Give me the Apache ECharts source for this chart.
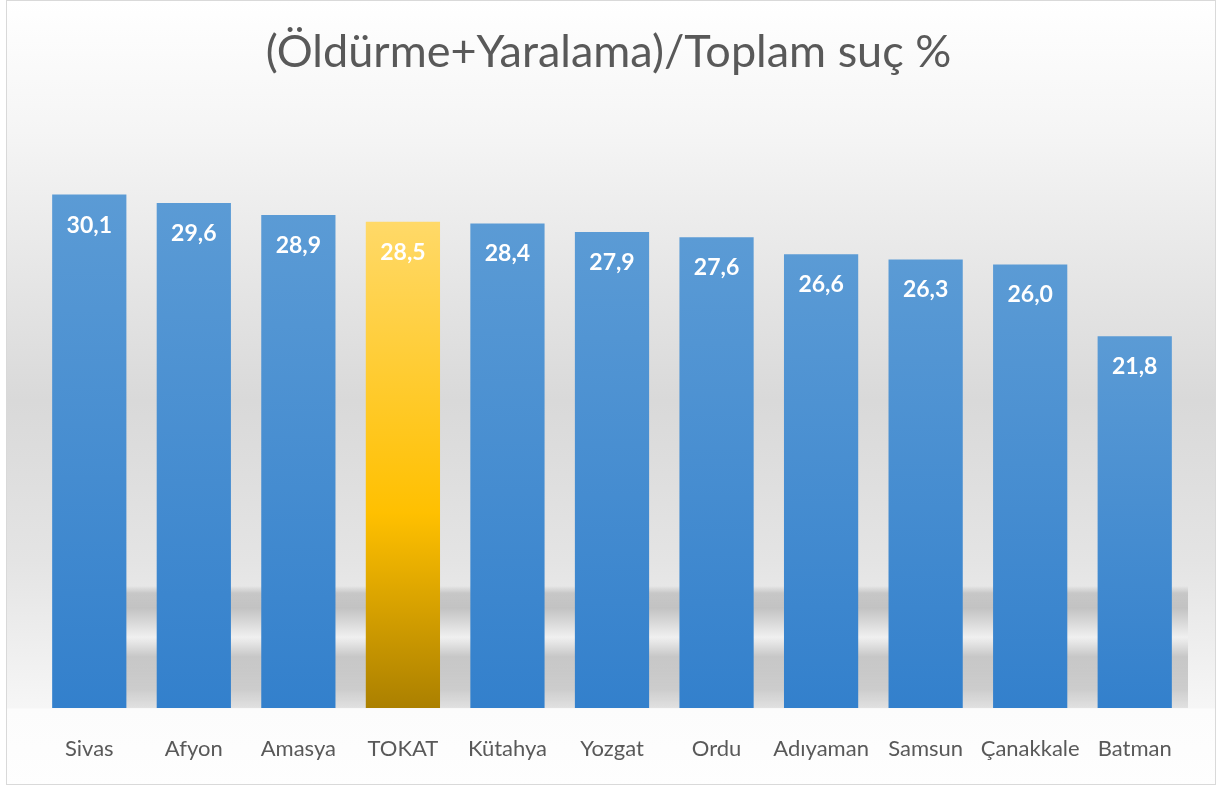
<!DOCTYPE html>
<html>
<head>
<meta charset="utf-8">
<script src="https://cdn.jsdelivr.net/npm/echarts@6/dist/echarts.min.js"></script>
<style>
  html, body { margin: 0; padding: 0; background: #fff; }
  .frame {
    position: absolute; left: 6px; top: 0; width: 1208px; height: 783px;
    border: 1px solid #d9d9d9;
    background: linear-gradient(to bottom, #ffffff 0px, #f5f5f5 130px, #d9d9d9 400px, #e4e4e4 560px, #f6f6f6 707px, #fcfcfc 708px, #fefefe 789px);
  }
  #chart { position: absolute; left: 0; top: 0; width: 1217px; height: 789px; }
</style>
</head>
<body>
<div class="frame"></div>
<div id="chart"></div>
<script>
const cities = ['Sivas', 'Afyon', 'Amasya', 'TOKAT', 'Kütahya', 'Yozgat', 'Ordu', 'Adıyaman', 'Samsun', 'Çanakkale', 'Batman'];
const ratios = [30.1, 29.6, 28.9, 28.5, 28.4, 27.9, 27.6, 26.6, 26.3, 26.0, 21.8];
const highlight = 'TOKAT';

const blueFill = new echarts.graphic.LinearGradient(0, 0, 0, 1, [
  { offset: 0, color: '#5b9bd5' },
  { offset: 1, color: '#3380cc' }
]);
const goldFill = new echarts.graphic.LinearGradient(0, 0, 0, 1, [
  { offset: 0, color: '#ffd968' },
  { offset: 0.6, color: '#ffc000' },
  { offset: 1, color: '#ab8000' }
]);

const chart = echarts.init(document.getElementById('chart'));
chart.setOption({
  backgroundColor: 'transparent',
  animation: false,
  title: {
    text: '(Öldürme+Yaralama)/Toplam suç %',
    left: 'center',
    top: 25,
    textStyle: { fontFamily: 'Lato', fontSize: 45, fontWeight: 'normal', color: '#595959' }
  },
  grid: { left: 37, right: 30, top: 111, bottom: 81 },
  // yansima bandi (dekor)
  graphic: [{
    type: 'rect',
    z: -1,
    shape: { x: 126, y: 586, width: 1062, height: 122 },
    style: {
      fill: new echarts.graphic.LinearGradient(0, 0, 0, 1, [
        { offset: 0, color: 'rgba(190,190,190,0)' },
        { offset: 0.06, color: 'rgba(190,190,190,0.8)' },
        { offset: 0.18, color: 'rgba(192,192,192,0.95)' },
        { offset: 0.42, color: 'rgba(240,240,240,0.95)' },
        { offset: 0.58, color: 'rgba(196,196,196,0.95)' },
        { offset: 0.85, color: 'rgba(200,200,200,0.9)' },
        { offset: 1, color: 'rgba(215,215,215,0.7)' }
      ])
    }
  }],
  xAxis: {
    type: 'category',
    data: cities,
    axisLine: { show: false },
    axisTick: { show: false },
    axisLabel: { interval: 0, margin: 30, fontFamily: 'Lato', fontSize: 22, color: '#595959' }
  },
  yAxis: { type: 'value', min: 0, max: 35, show: false },
  series: [{
    type: 'bar',
    barCategoryGap: '29%',
    data: ratios.map((v, i) => ({
      value: v,
      itemStyle: { color: cities[i] === highlight ? goldFill : blueFill }
    })),
    label: {
      show: true,
      position: 'insideTop',
      distance: 19,
      fontFamily: 'Lato',
      fontSize: 23,
      fontWeight: 'bold',
      color: '#ffffff',
      formatter: p => p.value.toFixed(1).replace('.', ',')
    }
  }]
});
</script>
</body>
</html>
